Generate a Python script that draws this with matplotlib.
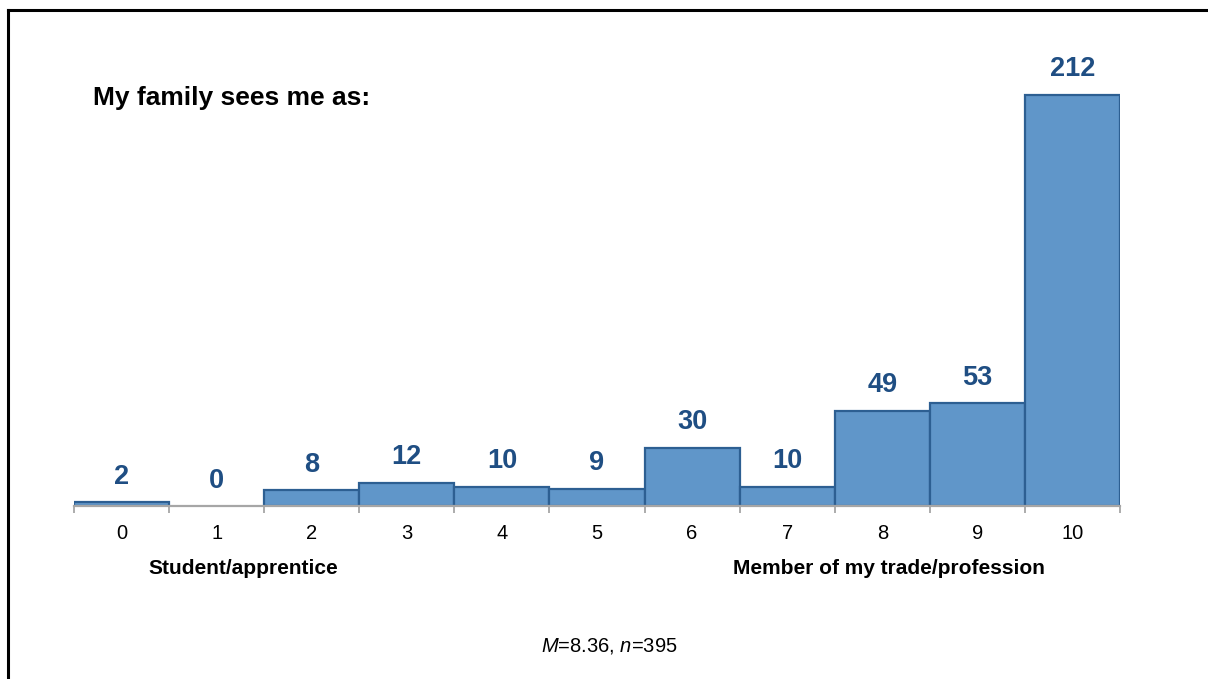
import matplotlib
matplotlib.use("Agg")
import matplotlib.pyplot as plt
from matplotlib.lines import Line2D

plt.rcParams["font.family"] = ["Liberation Sans", "DejaVu Sans"]
plt.rcParams["mathtext.fontset"] = "custom"
plt.rcParams["mathtext.rm"] = "Liberation Sans"
plt.rcParams["mathtext.it"] = "Liberation Sans:italic"

SCORES = [0, 1, 2, 3, 4, 5, 6, 7, 8, 9, 10]
COUNTS = [2, 0, 8, 12, 10, 9, 30, 10, 49, 53, 212]
TITLE = "My family sees me as:"
LOW_LABEL = "Student/apprentice"
HIGH_LABEL = "Member of my trade/profession"
FOOTNOTE = "$M$=8.36, $n$=395"

BAR_FACE = "#6096C9"
BAR_EDGE = "#2D5F92"
VALUE_COLOR = "#1F4E83"
AXIS_GRAY = "#A6A6A6"

W, H = 1208, 679
fig = plt.figure(figsize=(W / 100, H / 100), dpi=100)
ax = fig.add_axes([74 / W, (H - 506) / H, (1120 - 74) / W, 446 / H])

widths = [0 if c == 0 else 1.6 for c in COUNTS]
bars = ax.bar(SCORES, COUNTS, width=1.0, color=BAR_FACE,
              edgecolor=BAR_EDGE, linewidth=widths, zorder=2)
for bar, v in zip(bars, COUNTS):
    ax.annotate(str(v), xy=(bar.get_x() + bar.get_width() / 2, v),
                xytext=(0, 9), textcoords="offset points",
                ha="center", va="bottom", fontsize=19.5, fontweight="bold",
                color=VALUE_COLOR)

ax.set_xlim(SCORES[0] - 0.5, SCORES[-1] + 0.5)
ax.set_ylim(0, 230)
ax.set_yticks([])
for side in ("top", "right", "left"):
    ax.spines[side].set_visible(False)
ax.spines["bottom"].set_color(AXIS_GRAY)
ax.spines["bottom"].set_linewidth(1.6)
ax.spines["bottom"].set_zorder(3)

edges = [s - 0.5 for s in SCORES] + [SCORES[-1] + 0.5]
ax.set_xticks(edges)
ax.set_xticklabels([])
ax.tick_params(axis="x", which="major", length=5, width=1.3,
               color=AXIS_GRAY, direction="out")
ax.set_xticks(SCORES, minor=True)
ax.set_xticklabels([str(s) for s in SCORES], minor=True)
ax.tick_params(axis="x", which="minor", length=0, pad=13, labelsize=14.5)

fig.text(93 / W, 1 - 98 / H, TITLE, fontsize=19, fontweight="bold",
         ha="left", va="center")
fig.text(243 / W, 1 - 569 / H, LOW_LABEL, fontsize=15,
         fontweight="bold", ha="center", va="center")
fig.text(889 / W, 1 - 569 / H, HIGH_LABEL, fontsize=15,
         fontweight="bold", ha="center", va="center")
fig.text(609 / W, 1 - 646 / H, FOOTNOTE, fontsize=14.5,
         ha="center", va="center")

# frame around the chart area
fig.add_artist(Line2D([8 / W, 1], [1 - 9.5 / H, 1 - 9.5 / H],
                      color="black", linewidth=2.2))
fig.add_artist(Line2D([8 / W, 8 / W], [0, 1 - 9.5 / H],
                      color="black", linewidth=2.2))

fig.savefig("out.png", dpi=100)
